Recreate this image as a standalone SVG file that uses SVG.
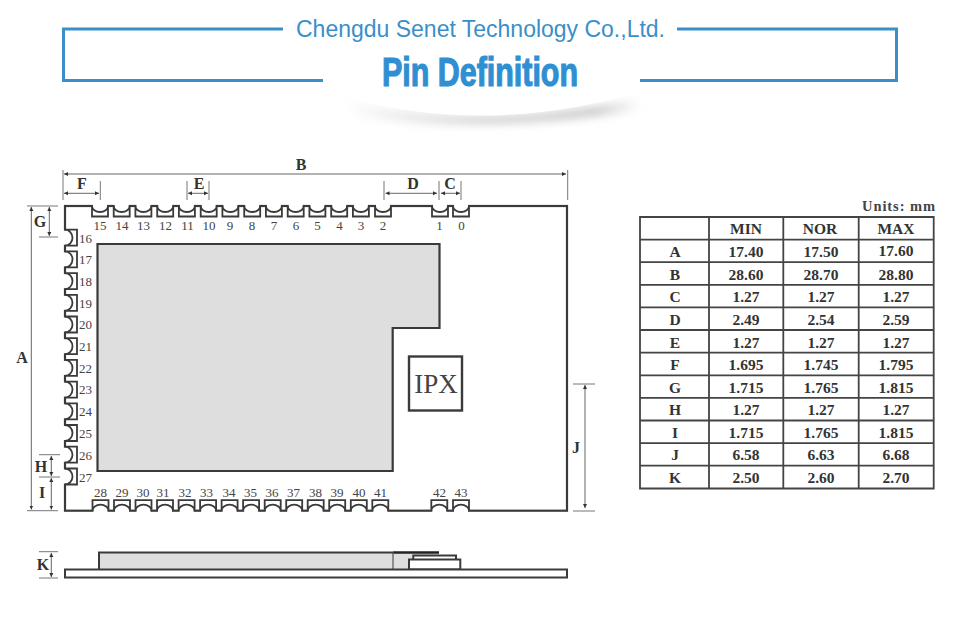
<svg xmlns="http://www.w3.org/2000/svg" width="960" height="628" viewBox="0 0 960 628">
<style>
.o{fill:none;stroke:#3a3a3a;stroke-width:2}
.pad{fill:#fff;stroke:#3a3a3a;stroke-width:1.8}
.d{fill:none;stroke:#666;stroke-width:1;marker-start:url(#as);marker-end:url(#ae)}
.e{fill:none;stroke:#777;stroke-width:1}
.n{font:13px "Liberation Serif",serif;fill:#444;text-anchor:middle}
.ln{font:13px "Liberation Serif",serif;fill:#444}
.l{font:bold 16px "Liberation Serif",serif;fill:#333;text-anchor:middle}
.t{font:bold 15.5px "Liberation Serif",serif;fill:#333;text-anchor:middle}
</style>
<defs>
<marker id="ae" markerUnits="userSpaceOnUse" markerWidth="4" markerHeight="5" refX="4" refY="2.500" orient="auto"><path d="M0 .5L4 2.500L0 4.500Z" fill="#333"/></marker>
<marker id="as" markerUnits="userSpaceOnUse" markerWidth="4" markerHeight="5" refX="0" refY="2.500" orient="auto"><path d="M4 .5L0 2.500L4 4.500Z" fill="#333"/></marker>
<g id="ph"><rect x="-7" y="-2" width="14" height="4" fill="#fff"/><path class="pad" d="M-8 0V10.500H8V0A8 6 0 0 1-8 0Z"/></g>
<g id="pv"><rect x="-7" y="-2" width="14" height="4" fill="#fff"/><path class="pad" d="M-8 0V12H8V0A8 7.500 0 0 1-8 0Z"/></g>
<filter id="b" x="-20%" y="-100%" width="140%" height="300%"><feGaussianBlur stdDeviation="4"/></filter>
<linearGradient id="sh" x1="0" x2="1" y1="0" y2="0"><stop offset="0" stop-color="#ccc" stop-opacity="0"/><stop offset=".5" stop-color="#d4d4d4"/><stop offset=".85" stop-color="#ccc"/><stop offset="1" stop-color="#ccc" stop-opacity="0"/></linearGradient>
</defs>
<rect width="960" height="628" fill="#fff"/>

<g id="title">
<path d="M345 100Q480 132 640 98V110Q480 136 355 116Z" fill="url(#sh)" filter="url(#b)"/>
<path d="M323 50H640V92Q480 138 335 94Z" fill="#fff"/>
<path d="M283 29H63.500V80.500H323M677 29H896.500V80.500H640" fill="none" stroke="#3a8fc9" stroke-width="3"/>
<text x="480.500" y="36.700" text-anchor="middle" textLength="369" lengthAdjust="spacingAndGlyphs" style="font:23px 'Liberation Sans',sans-serif;fill:#3a8fc9">Chengdu Senet Technology Co.,Ltd.</text>
<text x="480" y="86" text-anchor="middle" textLength="196" lengthAdjust="spacingAndGlyphs" stroke="#2f8fd3" stroke-width="1.200" style="font:bold 40px 'Liberation Sans',sans-serif;fill:#2f8fd3">Pin Definition</text>
</g>

<g id="board">
<rect x="65" y="206" width="502" height="304.700" fill="#fff" stroke="#3a3a3a" stroke-width="2.200"/>
<path d="M97.500 244H439.500V328H392.700V471H97.500Z" fill="#dedede" stroke="#3a3a3a" stroke-width="2.200"/>
<rect x="409" y="356.500" width="53" height="54" fill="#fff" stroke="#3a3a3a" stroke-width="2.400"/>
<text x="436" y="393" text-anchor="middle" style="font:27px 'Liberation Serif',serif;fill:#444">IPX</text>
</g>

<g id="pins-top">
<use href="#ph" x="100" y="206"/><use href="#ph" x="121.700" y="206"/><use href="#ph" x="143.400" y="206"/><use href="#ph" x="165.200" y="206"/><use href="#ph" x="186.900" y="206"/><use href="#ph" x="208.700" y="206"/><use href="#ph" x="230.400" y="206"/><use href="#ph" x="252.200" y="206"/><use href="#ph" x="273.900" y="206"/><use href="#ph" x="295.700" y="206"/><use href="#ph" x="317.400" y="206"/><use href="#ph" x="339.200" y="206"/><use href="#ph" x="360.900" y="206"/><use href="#ph" x="383" y="206"/><use href="#ph" x="440" y="206"/><use href="#ph" x="461" y="206"/>
<text class="n" x="100" y="230">15</text><text class="n" x="122" y="230">14</text><text class="n" x="143.500" y="230">13</text><text class="n" x="165.500" y="230">12</text><text class="n" x="187.500" y="230">11</text><text class="n" x="209" y="230">10</text><text class="n" x="230" y="230">9</text><text class="n" x="252" y="230">8</text><text class="n" x="274" y="230">7</text><text class="n" x="296" y="230">6</text><text class="n" x="317.500" y="230">5</text><text class="n" x="339.500" y="230">4</text><text class="n" x="361" y="230">3</text><text class="n" x="383" y="230">2</text><text class="n" x="439.500" y="230">1</text><text class="n" x="461.500" y="230">0</text>
</g>

<g id="pins-left">
<use href="#pv" transform="translate(65 237.700) rotate(-90)"/><use href="#pv" transform="translate(65 259.400) rotate(-90)"/><use href="#pv" transform="translate(65 281.100) rotate(-90)"/><use href="#pv" transform="translate(65 302.800) rotate(-90)"/><use href="#pv" transform="translate(65 324.500) rotate(-90)"/><use href="#pv" transform="translate(65 346.200) rotate(-90)"/><use href="#pv" transform="translate(65 367.900) rotate(-90)"/><use href="#pv" transform="translate(65 389.600) rotate(-90)"/><use href="#pv" transform="translate(65 411.300) rotate(-90)"/><use href="#pv" transform="translate(65 433) rotate(-90)"/><use href="#pv" transform="translate(65 454.700) rotate(-90)"/><use href="#pv" transform="translate(65 476.500) rotate(-90)"/>
<text class="ln" x="79" y="242.500">16</text><text class="ln" x="79" y="264">17</text><text class="ln" x="79" y="286">18</text><text class="ln" x="79" y="307.500">19</text><text class="ln" x="79" y="329">20</text><text class="ln" x="79" y="351">21</text><text class="ln" x="79" y="372.500">22</text><text class="ln" x="79" y="394">23</text><text class="ln" x="79" y="416">24</text><text class="ln" x="79" y="438">25</text><text class="ln" x="79" y="459.500">26</text><text class="ln" x="79" y="481.500">27</text>
</g>

<g id="pins-bottom">
<use href="#ph" transform="translate(100.500 510.700) scale(1 -1)"/><use href="#ph" transform="translate(122 510.700) scale(1 -1)"/><use href="#ph" transform="translate(143.500 510.700) scale(1 -1)"/><use href="#ph" transform="translate(165 510.700) scale(1 -1)"/><use href="#ph" transform="translate(186.600 510.700) scale(1 -1)"/><use href="#ph" transform="translate(208.100 510.700) scale(1 -1)"/><use href="#ph" transform="translate(229.600 510.700) scale(1 -1)"/><use href="#ph" transform="translate(251.100 510.700) scale(1 -1)"/><use href="#ph" transform="translate(272.700 510.700) scale(1 -1)"/><use href="#ph" transform="translate(294.200 510.700) scale(1 -1)"/><use href="#ph" transform="translate(315.700 510.700) scale(1 -1)"/><use href="#ph" transform="translate(337.200 510.700) scale(1 -1)"/><use href="#ph" transform="translate(358.800 510.700) scale(1 -1)"/><use href="#ph" transform="translate(380.300 510.700) scale(1 -1)"/><use href="#ph" transform="translate(439.300 510.700) scale(1 -1)"/><use href="#ph" transform="translate(461 510.700) scale(1 -1)"/>
<text class="n" x="100.500" y="496.700">28</text><text class="n" x="122" y="496.700">29</text><text class="n" x="143" y="496.700">30</text><text class="n" x="163" y="496.700">31</text><text class="n" x="185" y="496.700">32</text><text class="n" x="206.500" y="496.700">33</text><text class="n" x="229" y="496.700">34</text><text class="n" x="250.500" y="496.700">35</text><text class="n" x="272" y="496.700">36</text><text class="n" x="293.500" y="496.700">37</text><text class="n" x="315.500" y="496.700">38</text><text class="n" x="337" y="496.700">39</text><text class="n" x="359" y="496.700">40</text><text class="n" x="380.500" y="496.700">41</text><text class="n" x="439.500" y="496.700">42</text><text class="n" x="461" y="496.700">43</text>
</g>

<g id="side-view">
<path d="M99 570V552.500H393.500V570Z" fill="#dedede" stroke="#3a3a3a" stroke-width="2"/>
<path d="M393.500 552.500H439V556H413.300V560H409V570H393.500Z" fill="#dedede" stroke="none"/>
<path d="M393.500 552.500H439" stroke="#222" stroke-width="2.600" fill="none"/>
<path class="o" d="M413.300 560V555.500H456V560"/>
<rect x="409" y="559.500" width="51.300" height="10" fill="#fff" stroke="#3a3a3a" stroke-width="2"/>
<rect x="65" y="569.500" width="502" height="8" fill="#fff" stroke="#3a3a3a" stroke-width="2"/>
</g>

<g id="dimensions">
<path class="e" d="M63 170V200M567.700 170V200M100.300 181V200M187 181V200M209 181V200M384 181V200M439 181V200M461 181V200M27 206H58M39 237H58M39 454.700H60M39 477H60M27 510.700H58M39 551.700H58M39 578H58M573 384H595M573 511H595"/>
<path class="d" d="M64 174H566"/>
<path class="d" d="M64 193.300H99"/>
<path class="d" d="M188 193.300H208"/>
<path class="d" d="M385.500 193.300H437"/>
<path class="d" d="M441 193.300H460"/>
<path class="d" d="M49.300 207V236"/>
<path class="d" d="M31.300 207V509.500"/>
<path class="d" d="M51.300 456V476"/>
<path class="d" d="M51.300 478V509.500"/>
<path class="d" d="M51.300 553V577"/>
<path class="d" d="M585 385V508"/>
<text class="l" x="301" y="170">B</text><text class="l" x="82" y="189">F</text><text class="l" x="199" y="189">E</text><text class="l" x="413" y="189">D</text><text class="l" x="450" y="189">C</text><text class="l" x="40" y="227">G</text><text class="l" x="22" y="363">A</text><text class="l" x="41" y="472">H</text><text class="l" x="42" y="498">I</text><text class="l" x="43" y="570">K</text><text class="l" x="576" y="453">J</text>
</g>

<g id="table">
<text x="935" y="210.500" text-anchor="end" textLength="73" style="font:bold 14.500px 'Liberation Serif',serif;fill:#444">Units: mm</text>
<path d="M640 217H933.700V488.500H640ZM709 217V488.500M783.300 217V488.500M858.700 217V488.500M640 239.600H933.700M640 262.200H933.700M640 284.800H933.700M640 307.400H933.700M640 330H933.700M640 352.600H933.700M640 375.300H933.700M640 397.900H933.700M640 420.500H933.700M640 443.100H933.700M640 465.700H933.700" fill="none" stroke="#444" stroke-width="1.800"/>
<g class="t"><text class="t" x="746" y="234">MIN</text><text class="t" x="820" y="234">NOR</text><text class="t" x="896" y="234">MAX</text>
<text class="t" x="675" y="257">A</text><text class="t" x="746" y="257">17.40</text><text class="t" x="821" y="257">17.50</text><text class="t" x="896" y="256">17.60</text>
<text class="t" x="675" y="279.500">B</text><text class="t" x="746" y="279.500">28.60</text><text class="t" x="821" y="279.500">28.70</text><text class="t" x="896" y="279.500">28.80</text>
<text class="t" x="675" y="302">C</text><text class="t" x="746" y="302">1.27</text><text class="t" x="821" y="302">1.27</text><text class="t" x="896" y="302">1.27</text>
<text class="t" x="675" y="325">D</text><text class="t" x="746" y="325">2.49</text><text class="t" x="821" y="325">2.54</text><text class="t" x="896" y="325">2.59</text>
<text class="t" x="675" y="347.500">E</text><text class="t" x="746" y="347.500">1.27</text><text class="t" x="821" y="347.500">1.27</text><text class="t" x="896" y="347.500">1.27</text>
<text class="t" x="675" y="370">F</text><text class="t" x="746" y="370">1.695</text><text class="t" x="821" y="370">1.745</text><text class="t" x="896" y="370">1.795</text>
<text class="t" x="675" y="392.500">G</text><text class="t" x="746" y="392.500">1.715</text><text class="t" x="821" y="392.500">1.765</text><text class="t" x="896" y="392.500">1.815</text>
<text class="t" x="675" y="415">H</text><text class="t" x="746" y="415">1.27</text><text class="t" x="821" y="415">1.27</text><text class="t" x="896" y="415">1.27</text>
<text class="t" x="675" y="437.500">I</text><text class="t" x="746" y="437.500">1.715</text><text class="t" x="821" y="437.500">1.765</text><text class="t" x="896" y="437.500">1.815</text>
<text class="t" x="675" y="460">J</text><text class="t" x="746" y="460">6.58</text><text class="t" x="821" y="460">6.63</text><text class="t" x="896" y="460">6.68</text>
<text class="t" x="675" y="483">K</text><text class="t" x="746" y="483">2.50</text><text class="t" x="821" y="483">2.60</text><text class="t" x="896" y="483">2.70</text></g>
</g>
</svg>
